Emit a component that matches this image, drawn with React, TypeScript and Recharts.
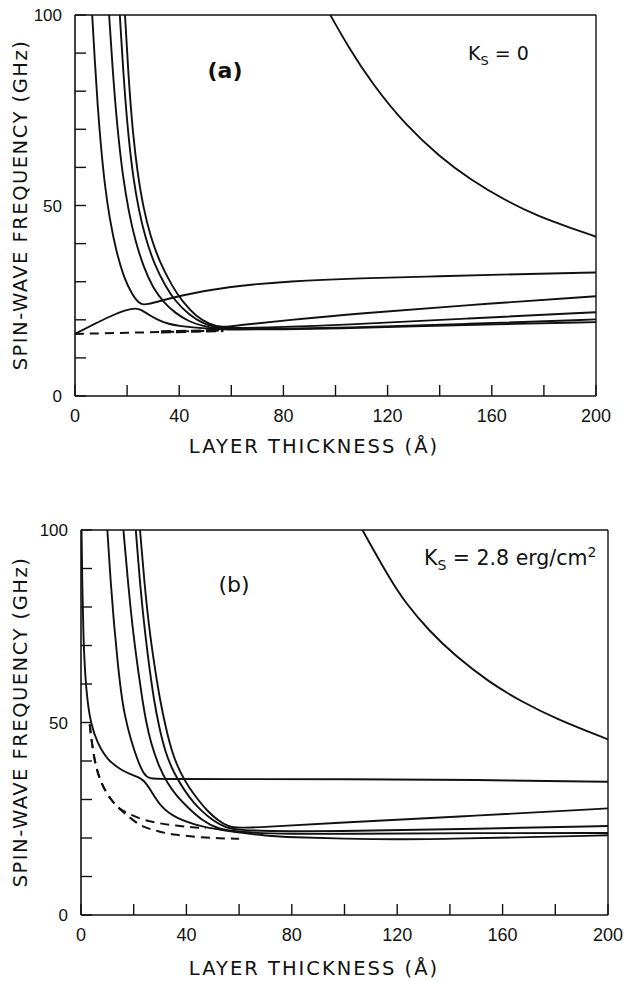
import React from 'react'
import { LineChart, Line, XAxis, YAxis, ReferenceLine } from 'recharts'

// Spin-wave frequency vs layer thickness, two panels: (a) Ks = 0, (b) Ks = 2.8 erg/cm2

type Pt = { d: number; f: number }
const pts = (a: number[][]): Pt[] => a.map(([d, f]) => ({ d, f }))

const X_TICKS = [0, 20, 40, 60, 80, 100, 120, 140, 160, 180, 200]
const Y_TICKS = [0, 10, 20, 30, 40, 50, 60, 70, 80, 90, 100]
const X_LABELS = [0, 40, 80, 120, 160, 200]
const Y_LABELS = [0, 50, 100]

// ---- panel (a) ----
const A_HIGH = pts([[98, 100], [105, 91.5], [114, 82], [127, 71], [140, 62.8], [152, 56.7], [165, 51.4], [178, 47.1], [190, 44.2], [200, 41.8]])
const A_MODE1 = pts([[6.6, 100], [7.6, 88], [8.7, 76], [10, 65], [11.5, 55], [13.3, 46.5], [15.8, 38], [18.8, 31], [22, 26.5], [25.2, 23.8], [28, 24.1], [32, 24.8], [40, 26.3], [58, 28.7], [83, 30.2], [109, 30.9], [140, 31.4], [170, 32], [200, 32.4]])
const A_LOWER = pts([[0, 16.3], [6.6, 18.6], [13, 20.8], [19.5, 22.6], [23.5, 23.1], [25.5, 22.6], [28.4, 21.3], [32.2, 19.8], [36, 18.9], [40, 18.4], [45, 18], [52, 17.6], [60, 17.4], [80, 17.5], [101, 17.7], [130, 18.3], [160, 18.8], [200, 19.4]])
const A_MODE2 = pts([[13.1, 100], [14.8, 82], [16.6, 68], [18.5, 57], [20.6, 48.5], [23, 41], [26.5, 33.5], [30, 28.3], [34, 24.6], [38.6, 21.7], [43.8, 19.5], [48.9, 18.4], [54, 17.8], [60, 17.6], [80, 17.6], [101, 17.9], [150, 18.9], [200, 20.1]])
const A_MODE3 = pts([[17.2, 100], [18.8, 82], [20.5, 68], [22.3, 57.5], [24.4, 49], [27, 41.5], [30.5, 34.5], [34.8, 28.7], [38.6, 24.8], [43.8, 21.3], [48.9, 19.1], [54, 18], [60, 17.8], [80, 18.1], [101, 18.6], [150, 20.3], [200, 22]])
const A_MODE4 = pts([[19.2, 100], [20.6, 83], [22.2, 69], [24, 58.5], [26.2, 49.5], [29, 41.8], [32.6, 35], [37.4, 28.7], [41.2, 24.8], [46.3, 21], [51.4, 18.9], [56.5, 17.9], [63, 18.6], [80, 19.8], [109, 21.7], [150, 23.8], [200, 26.2]])
const A_DASH = pts([[0, 16.3], [20, 16.6], [40, 16.9], [57, 17.2]])
const A_DASH_HEAVY = pts([[33, 16.85], [45, 17.0], [57, 17.2]])

// ---- panel (b) ----
const B_HIGH = pts([[106.8, 100], [116.9, 87.6], [123.2, 81], [132.1, 73.8], [142.2, 67.2], [154.8, 60.5], [167.5, 55.3], [180.1, 51], [200, 45.6]])
const B_LOWER = pts([[0.2, 100], [0.5, 85], [0.9, 72], [1.6, 62], [2.4, 55.8], [3.7, 49.8], [6.2, 44.6], [10, 40.3], [15.1, 37.7], [19, 36.5], [21.4, 35.9], [23.9, 35], [26.4, 32.5], [30.2, 28.1], [35.9, 25.1], [46, 22.9], [52.4, 22.2], [60, 21.4], [70, 20.6], [80, 20.2], [100, 19.8], [120, 19.6], [140, 19.8], [170, 20.2], [200, 20.7]])
const B_MODE1 = pts([[10, 100], [11.3, 86], [12.5, 75.8], [14, 65], [15.1, 58.4], [16.5, 52], [18.9, 45.5], [21.4, 40.3], [23.9, 36.4], [26, 35.4], [30, 35.3], [60, 35.3], [100, 35.3], [150, 35.1], [200, 34.6]])
const B_MODE2 = pts([[16.1, 100], [18, 85], [20, 72], [21.8, 63], [23.3, 55.8], [24.6, 50.6], [26.5, 44.6], [29.6, 38.5], [32.8, 34.2], [36.5, 30.7], [40.3, 28.1], [46, 24.5], [52, 22.3], [60, 21.5], [80, 21], [100, 21.1], [150, 21.3], [200, 21.3]])
const B_MODE3 = pts([[20.8, 100], [22.5, 85], [24.5, 72], [26.2, 63], [27.7, 55.8], [29.6, 48.9], [32.1, 42], [35.3, 36.8], [39.1, 32.5], [42.9, 29], [45.4, 27.3], [50, 24.5], [55, 22.6], [60, 22], [80, 21.7], [100, 21.8], [150, 22.4], [200, 23.1]])
const B_MODE4 = pts([[22.4, 100], [24.2, 85], [26.3, 72], [28.3, 63], [30, 55.8], [32.1, 48.9], [34.6, 42], [37.8, 36.8], [41, 33.1], [44.8, 29.6], [48, 27], [52, 24.5], [56, 22.9], [60, 22.6], [68, 22.8], [98, 24], [150, 25.8], [200, 27.7]])
const B_DASH1 = pts([[3.3, 49.5], [4.9, 40.3], [7.5, 34.2], [11.3, 29.9], [14.4, 27.7], [17, 26.6], [23.3, 24.7], [29.6, 23.8], [36, 23.2], [42.3, 22.8], [47.3, 22.5]])
const B_DASH2 = pts([[3.3, 49.5], [4.9, 40.3], [7.5, 34.2], [11.3, 29.9], [14.4, 27.7], [17, 26.2], [20, 24.5], [23.3, 22.9], [29.6, 21.6], [35.9, 20.8], [44.8, 20.2], [52.4, 19.9], [60, 19.8]])

const INK = '#111'
const FONT = '"Liberation Sans", Arial, sans-serif'
const TITLE_FONT = '"DejaVu Sans", sans-serif'
const W = 630
const H = 470
const YW = 40
const XH = 30

interface PanelProps {
  top: number
  plot: { left: number; top: number; right: number; bottom: number }
  solid: Pt[][]
  dashed: Pt[][]
  heavy?: Pt[][]
}

function Panel({ top, plot, solid, dashed, heavy = [] }: PanelProps) {
  const margin = {
    top: plot.top - top,
    left: plot.left - YW,
    right: W - plot.right,
    bottom: top + H - plot.bottom - XH,
  }
  return (
    <div style={{ position: 'absolute', left: 0, top }}>
      <LineChart width={W} height={H} margin={margin}>
        <XAxis
          type="number"
          dataKey="d"
          domain={[0, 200]}
          ticks={X_TICKS}
          interval={0}
          allowDataOverflow
          height={XH}
          tickSize={-11}
          tickMargin={24}
          tickFormatter={(v: number) => (X_LABELS.includes(v) ? String(v) : '')}
          axisLine={{ stroke: INK, strokeWidth: 1.6 }}
          tickLine={{ stroke: INK, strokeWidth: 1.4 }}
          tick={{ fill: INK, fontSize: 18, fontFamily: FONT }}
        />
        <YAxis
          type="number"
          domain={[0, 100]}
          ticks={Y_TICKS}
          interval={0}
          allowDataOverflow
          width={YW}
          tickSize={-11}
          tickMargin={24}
          tickFormatter={(v: number) => (Y_LABELS.includes(v) ? String(v) : '')}
          axisLine={{ stroke: INK, strokeWidth: 1.6 }}
          tickLine={{ stroke: INK, strokeWidth: 1.4 }}
          tick={{ fill: INK, fontSize: 17, fontFamily: FONT }}
        />
        <ReferenceLine y={100} stroke={INK} strokeWidth={1.4} />
        <ReferenceLine x={200} stroke={INK} strokeWidth={1.4} />
        {solid.map((data, i) => (
          <Line
            key={'s' + i}
            data={data}
            dataKey="f"
            type="basis"
            stroke={INK}
            strokeWidth={1.9}
            dot={false}
            isAnimationActive={false}
          />
        ))}
        {dashed.map((data, i) => (
          <Line
            key={'d' + i}
            data={data}
            dataKey="f"
            type="basis"
            stroke={INK}
            strokeWidth={2}
            strokeDasharray="9 6"
            dot={false}
            isAnimationActive={false}
          />
        ))}
        {heavy.map((data, i) => (
          <Line
            key={'h' + i}
            data={data}
            dataKey="f"
            type="linear"
            stroke={INK}
            strokeWidth={3.2}
            strokeDasharray="10 5"
            dot={false}
            isAnimationActive={false}
          />
        ))}
      </LineChart>
    </div>
  )
}

const abs = (x: number, y: number, extra: React.CSSProperties = {}): React.CSSProperties => ({
  position: 'absolute',
  left: x,
  top: y,
  color: INK,
  whiteSpace: 'nowrap',
  ...extra,
})

function YTitle({ cy }: { cy: number }) {
  return (
    <div
      style={abs(20, cy, {
        transform: 'translate(-50%, -50%) rotate(-90deg)',
        fontFamily: TITLE_FONT,
        fontSize: 19.5,
        letterSpacing: 1.5,
      })}
    >
      SPIN-WAVE FREQUENCY (GHz)
    </div>
  )
}

function XTitle({ cy }: { cy: number }) {
  return (
    <div
      style={abs(314, cy, {
        transform: 'translate(-50%, -50%)',
        fontFamily: TITLE_FONT,
        fontSize: 19.5,
        letterSpacing: 2,
      })}
    >
      LAYER THICKNESS (Å)
    </div>
  )
}

export default function App() {
  return (
    <div style={{ position: 'absolute', left: 0, top: 0, width: W, height: 981, background: '#fff', overflow: 'hidden' }}>
      <Panel
        top={0}
        plot={{ left: 75, top: 15, right: 596, bottom: 396 }}
        solid={[A_HIGH, A_MODE1, A_LOWER, A_MODE2, A_MODE3, A_MODE4]}
        dashed={[A_DASH]}
        heavy={[A_DASH_HEAVY]}
      />
      <Panel
        top={490}
        plot={{ left: 81, top: 530, right: 608, bottom: 915 }}
        solid={[B_HIGH, B_LOWER, B_MODE1, B_MODE2, B_MODE3, B_MODE4]}
        dashed={[B_DASH1, B_DASH2]}
      />

      <YTitle cy={205} />
      <YTitle cy={722} />
      <XTitle cy={446} />
      <XTitle cy={968} />

      <div style={abs(225, 70, { transform: 'translate(-50%, -50%)', fontFamily: TITLE_FONT, fontSize: 22, fontWeight: 700 })}>(a)</div>
      <div style={abs(234, 584, { transform: 'translate(-50%, -50%)', fontFamily: TITLE_FONT, fontSize: 22 })}>(b)</div>

      <div style={abs(468, 42, { fontFamily: TITLE_FONT, fontSize: 19 })}>
        K<span style={{ fontSize: 13, position: 'relative', top: 5 }}>S</span> = 0
      </div>
      <div style={abs(424, 546, { fontFamily: TITLE_FONT, fontSize: 20.5 })}>
        K<span style={{ fontSize: 14, position: 'relative', top: 5 }}>S</span> = 2.8 erg/cm
        <span style={{ fontSize: 14, position: 'relative', top: -8 }}>2</span>
      </div>
    </div>
  )
}
